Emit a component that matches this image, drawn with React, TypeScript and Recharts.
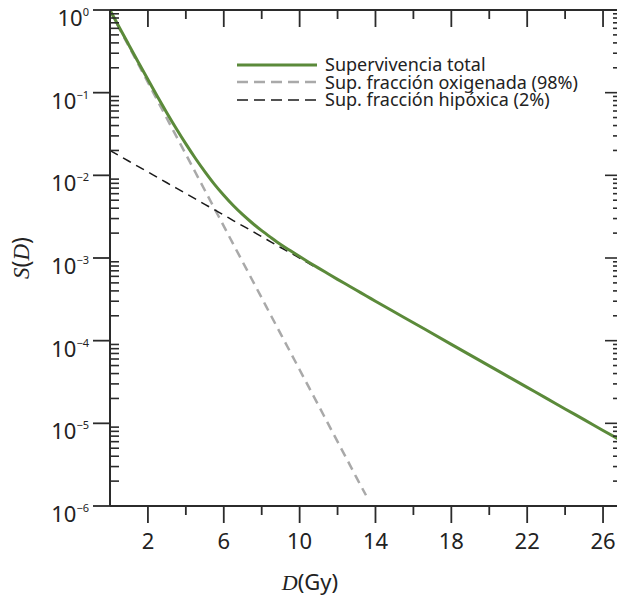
import React from "react";
import { LineChart, Line, XAxis, YAxis, Legend } from "recharts";

// dose axis (Gy)
const doses = [
  0, 0.5, 1, 1.5, 2, 2.5, 3, 3.5, 4, 4.5, 5, 5.5, 6, 6.5, 7, 7.5, 8, 8.5, 9,
  9.5, 10, 10.5, 11, 11.5, 12, 12.5, 13, 13.5, 14, 15, 16, 17, 18, 19, 20, 21,
  22, 23, 24, 25, 26, 27,
];

// log scale
const totalSurvival = [
  1.0, 0.611, 0.376, 0.232, 0.144, 0.0899, 0.0569, 0.0366, 0.024, 0.0161,
  0.0111, 0.00784, 0.00574, 0.00431, 0.00334, 0.00265, 0.00214, 0.00176,
  0.00146, 0.00123, 0.00104, 0.000884, 0.000754, 0.000645, 0.000552, 0.000474,
  0.000407, 0.00035, 0.0003, 0.000222, 0.000165, 0.000122, 0.0000903,
  0.0000669, 0.0000496, 0.0000367, 0.0000272, 0.0000202, 0.0000149,
  0.0000111, 0.0000082, 0.0000061,
];

const oxicSurvival = [
  0.98, 0.594, 0.361, 0.219, 0.133, 0.0804, 0.0488, 0.0296, 0.018, 0.0109,
  0.0066, 0.004, 0.00243, 0.00147, 0.000894, 0.000542, 0.000329, 0.000199,
  0.000121, 0.0000734, 0.0000445, 0.000027, 0.0000164, 0.0000099, 0.000006,
  0.00000365, 0.0000022, 0.00000135,
];

const hypoxicSurvival = [
  0.02, 0.0172, 0.0148, 0.01275, 0.011, 0.00945, 0.00813, 0.007, 0.00602,
  0.00518, 0.00446, 0.00384, 0.00331, 0.00284, 0.00245, 0.00211, 0.00181,
  0.00156, 0.00134, 0.00116, 0.000996, 0.000857, 0.000738,
];

const xTicks = [2, 4, 6, 8, 10, 12, 14, 16, 18, 20, 22, 24, 26];
const xLabelTicks = [2, 6, 10, 14, 18, 22, 26];
const decades = [-6, -5, -4, -3, -2, -1, 0];
const yTicks = decades.flatMap((k) =>
  k === 0 ? [1] : [1, 2, 3, 4, 5, 6, 7, 8, 9].map((m) => m * Math.pow(10, k))
);

const seriesNames = {
  total: "Supervivencia total",
  ox: "Sup. fracción oxigenada (98%)",
  hyp: "Sup. fracción hipóxica (2%)",
};

const data = doses.map((d, i) => ({
  d,
  total: totalSurvival[i],
  ox: i < oxicSurvival.length ? oxicSurvival[i] : null,
  hyp: i < hypoxicSurvival.length ? hypoxicSurvival[i] : null,
}));

const AX = "#2b2b2b";
const GREEN = "#5b8a3a";
const GREY = "#a9a9a9";
const DARK = "#1a1a1a";
const SANS = "'Noto Sans', 'Open Sans', sans-serif";
const SERIF = "'Liberation Serif', 'DejaVu Serif', serif";
const MAJOR = 17;
const MINOR = 9;

const isDecade = (v: number) => {
  const l = Math.log10(v);
  return Math.abs(l - Math.round(l)) < 1e-6;
};

const LeftTick = (props: any) => {
  const { x, y, payload } = props;
  const v = payload.value as number;
  if (!isDecade(v)) {
    return <line x1={x} x2={x + MINOR} y1={y} y2={y} stroke={AX} strokeWidth={1.6} />;
  }
  const e = Math.round(Math.log10(v));
  return (
    <g>
      <line x1={x - MAJOR} x2={x} y1={y} y2={y} stroke={AX} strokeWidth={1.8} />
      <text x={x - 21} y={y + 16} textAnchor="end" fontFamily={SANS} fontSize={22} fill="#222">
        <tspan>10</tspan>
        <tspan dy={-10} fontSize={11}>
          {e === 0 ? "0" : "\u2212" + -e}
        </tspan>
      </text>
    </g>
  );
};

const RightTick = (props: any) => {
  const { x, y, payload } = props;
  const len = isDecade(payload.value) ? MAJOR : MINOR;
  return <line x1={x - len} x2={x} y1={y} y2={y} stroke={AX} strokeWidth={1.6} />;
};

const BottomTick = (props: any) => {
  const { x, y, payload } = props;
  const v = payload.value as number;
  if (!xLabelTicks.includes(v)) {
    return <line x1={x} x2={x} y1={y} y2={y + MINOR} stroke={AX} strokeWidth={1.8} />;
  }
  return (
    <g>
      <line x1={x} x2={x} y1={y} y2={y + MAJOR} stroke={AX} strokeWidth={1.8} />
      <text x={x} y={y + 43} textAnchor="middle" fontFamily={SANS} fontSize={22} fill="#222">
        {v}
      </text>
    </g>
  );
};

const TopTick = (props: any) => {
  const { x, y, payload } = props;
  const len = xLabelTicks.includes(payload.value) ? MAJOR : MINOR;
  return <line x1={x} x2={x} y1={y} y2={y + len} stroke={AX} strokeWidth={1.8} />;
};

const legendStyle: Record<string, { color: string; width: number; dash?: string }> = {
  total: { color: GREEN, width: 3 },
  ox: { color: GREY, width: 2.5, dash: "11 6" },
  hyp: { color: DARK, width: 1.6, dash: "11 6" },
};

const renderLegend = () => (
  <div style={{ fontFamily: SANS, fontSize: 18, color: "#222", textAlign: "left" }}>
    {(["total", "ox", "hyp"] as const).map((k) => {
      const s = legendStyle[k];
      return (
        <div
          key={k}
          style={{ display: "flex", justifyContent: "flex-start", alignItems: "center", height: 17.5, lineHeight: "17.5px", whiteSpace: "nowrap" }}
        >
          <svg width={88} height={10} style={{ flex: "none" }}>
            <line x1={0} x2={80} y1={5} y2={5} stroke={s.color} strokeWidth={s.width} strokeDasharray={s.dash} />
          </svg>
          <span>{seriesNames[k]}</span>
        </div>
      );
    })}
  </div>
);

export default function App() {
  return (
    <div style={{ position: "absolute", left: 0, top: 0, width: 617, height: 596, overflow: "hidden", background: "#fff" }}>
      <LineChart width={640} height={596} data={data} margin={{ top: 10, right: 18, bottom: 30, left: 30 }}>
        <XAxis
          xAxisId="b"
          dataKey="d"
          type="number"
          domain={[0, 27]}
          allowDataOverflow
          ticks={xTicks}
          interval={0}
          height={60}
          tickSize={0}
          tickMargin={0}
          tickLine={false}
          tick={BottomTick}
          axisLine={{ stroke: AX, strokeWidth: 2 }}
          label={{
            content: () => (
              <text x={310} y={590} textAnchor="middle" fontSize={22} fill="#222" fontFamily={SANS}>
                <tspan fontFamily={SERIF} fontStyle="italic">D</tspan>
                <tspan>(Gy)</tspan>
              </text>
            ),
          }}
        />
        <XAxis
          xAxisId="t"
          dataKey="d"
          type="number"
          orientation="top"
          mirror
          domain={[0, 27]}
          allowDataOverflow
          ticks={xTicks}
          interval={0}
          height={1}
          tickSize={0}
          tickMargin={0}
          tickLine={false}
          tick={TopTick}
          axisLine={{ stroke: AX, strokeWidth: 2 }}
        />
        <YAxis
          yAxisId="l"
          scale="log"
          domain={[1e-6, 1]}
          allowDataOverflow
          ticks={yTicks}
          interval={0}
          width={80}
          tickSize={0}
          tickMargin={0}
          tickLine={false}
          tick={LeftTick}
          axisLine={{ stroke: AX, strokeWidth: 2 }}
          label={{
            content: () => (
              <text
                x={0}
                y={0}
                transform="translate(29 258) rotate(-90)"
                textAnchor="middle"
                fontSize={23}
                fill="#222"
                fontFamily={SANS}
              >
                <tspan fontFamily={SERIF} fontStyle="italic">S</tspan>
                <tspan>(</tspan>
                <tspan fontFamily={SERIF} fontStyle="italic">D</tspan>
                <tspan>)</tspan>
              </text>
            ),
          }}
        />
        <YAxis
          yAxisId="r"
          orientation="right"
          mirror
          scale="log"
          domain={[1e-6, 1]}
          allowDataOverflow
          ticks={yTicks}
          interval={0}
          width={1}
          tickSize={0}
          tickMargin={0}
          tickLine={false}
          tick={RightTick}
          axisLine={{ stroke: AX, strokeWidth: 2 }}
        />
        <Legend
          layout="vertical"
          align="center"
          verticalAlign="middle"
          wrapperStyle={{ left: 237, top: 56, width: 320 }}
          content={renderLegend}
        />
        <Line
          xAxisId="b"
          yAxisId="l"
          dataKey="ox"
          name={seriesNames.ox}
          type="monotone"
          stroke={GREY}
          strokeWidth={2.5}
          strokeDasharray="9 6"
          dot={false}
          activeDot={false}
          isAnimationActive={false}
        />
        <Line
          xAxisId="b"
          yAxisId="l"
          dataKey="hyp"
          name={seriesNames.hyp}
          type="monotone"
          stroke={DARK}
          strokeWidth={1.5}
          strokeDasharray="9 6"
          dot={false}
          activeDot={false}
          isAnimationActive={false}
        />
        <Line
          xAxisId="b"
          yAxisId="l"
          dataKey="total"
          name={seriesNames.total}
          type="monotone"
          stroke={GREEN}
          strokeWidth={3}
          dot={false}
          activeDot={false}
          isAnimationActive={false}
        />
      </LineChart>
    </div>
  );
}
